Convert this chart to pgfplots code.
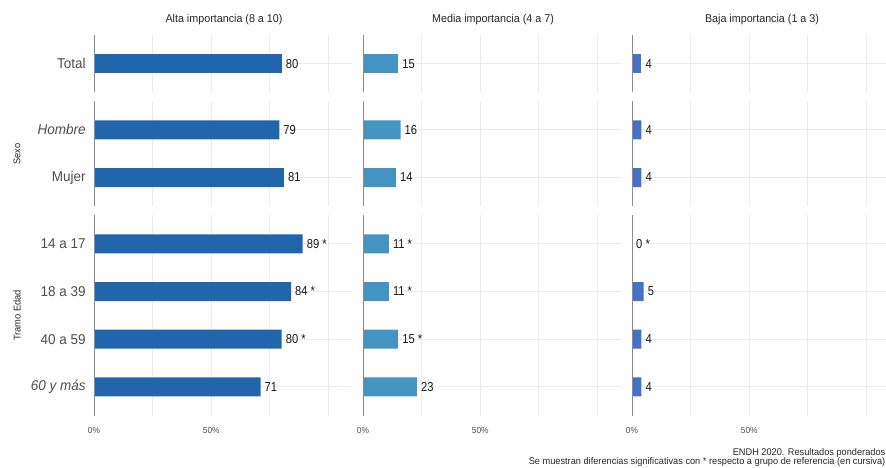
\documentclass[border=0pt]{standalone}
\usepackage{fontspec}
\setmainfont{Liberation Sans}[FakeStretch=0.86]
\newfontfamily\wide{Liberation Sans}[FakeStretch=0.95]
\usepackage{pgfplots}
\pgfplotsset{compat=1.18}
\definecolor{cA}{HTML}{2166AC}
\definecolor{cB}{HTML}{4393C3}
\definecolor{cC}{HTML}{4472C4}
\definecolor{gridc}{HTML}{EBEBEB}
\definecolor{axc}{HTML}{8C8C8C}
\definecolor{labc}{HTML}{4D4D4D}
\newcommand\fs[1]{\fontsize{#1}{#1}\selectfont}
\tikzset{zl/.style={axc, line width=1pt}}
\pgfplotsset{
  panel/.style={
    scale only axis, width=258pt,
    xmin=0, xmax=110, y dir=reverse,
    axis line style={draw=none},
    tick style={draw=none},
    xtick={0,25,50,75,100}, xticklabels={},
    xmajorgrids, ymajorgrids,
    major grid style={gridc, line width=1pt},
    yticklabel style={font=\wide\fs{14.2}, text=labc, inner sep=0pt, xshift=-4pt},
    xticklabel style={font=\wide\fs{8.8}, text=labc, inner sep=0pt, yshift=-11.5pt},
    xbar, bar width=19pt,
    nodes near coords, point meta=explicit symbolic,
    every node near coord/.append style={font=\fs{13}, text=black!90, inner sep=0pt, xshift=4pt, anchor=west},
    clip=false,
  },
  r1/.style={height=57.24pt, ymin=0.4, ymax=1.6, ytick={1}},
  r2/.style={height=104.94pt, ymin=0.4, ymax=2.6, ytick={1,2}},
  r3/.style={height=200.34pt, ymin=0.4, ymax=4.6, ytick={1,2,3,4}},
}
\begin{document}
\begin{tikzpicture}
\path[use as bounding box] (0,0) rectangle (886pt,467pt);
% ---------- Column 1 : Alta importancia ----------
\begin{axis}[panel, r1, at={(94pt,432pt)}, anchor=north west, yticklabels={Total}]
\addplot[fill=cA, draw=none] coordinates {(80,1) [80]};
\draw[zl] (rel axis cs:0,0) -- (rel axis cs:0,1);
\end{axis}
\begin{axis}[panel, r2, at={(94pt,365.8pt)}, anchor=north west, yticklabels={\textit{Hombre},Mujer}]
\addplot[fill=cA, draw=none] coordinates {(79,1) [79] (81,2) [81]};
\draw[zl] (rel axis cs:0,0) -- (rel axis cs:0,1);
\end{axis}
\begin{axis}[panel, r3, at={(94pt,251.8pt)}, anchor=north west, yticklabels={14 a 17,18 a 39,40 a 59,\textit{60 y más}}, xticklabels={0\%,,50\%,,}]
\addplot[fill=cA, draw=none] coordinates {(89,1) [89 *] (84,2) [84 *] (80,3) [80 *] (71,4) [71]};
\draw[zl] (rel axis cs:0,0) -- (rel axis cs:0,1);
\end{axis}
% ---------- Column 2 : Media importancia ----------
\begin{axis}[panel, r1, at={(363pt,432pt)}, anchor=north west, yticklabels={}]
\addplot[fill=cB, draw=none] coordinates {(15,1) [15]};
\draw[zl] (rel axis cs:0,0) -- (rel axis cs:0,1);
\end{axis}
\begin{axis}[panel, r2, at={(363pt,365.8pt)}, anchor=north west, yticklabels={}]
\addplot[fill=cB, draw=none] coordinates {(16,1) [16] (14,2) [14]};
\draw[zl] (rel axis cs:0,0) -- (rel axis cs:0,1);
\end{axis}
\begin{axis}[panel, r3, at={(363pt,251.8pt)}, anchor=north west, yticklabels={}, xticklabels={0\%,,50\%,,}]
\addplot[fill=cB, draw=none] coordinates {(11,1) [11 *] (11,2) [11 *] (15,3) [15 *] (23,4) [23]};
\draw[zl] (rel axis cs:0,0) -- (rel axis cs:0,1);
\end{axis}
% ---------- Column 3 : Baja importancia ----------
\begin{axis}[panel, r1, at={(632pt,432pt)}, anchor=north west, yticklabels={}]
\addplot[fill=cC, draw=none] coordinates {(4,1) [4]};
\draw[zl] (rel axis cs:0,0) -- (rel axis cs:0,1);
\end{axis}
\begin{axis}[panel, r2, at={(632pt,365.8pt)}, anchor=north west, yticklabels={}]
\addplot[fill=cC, draw=none] coordinates {(4,1) [4] (4,2) [4]};
\draw[zl] (rel axis cs:0,0) -- (rel axis cs:0,1);
\end{axis}
\begin{axis}[panel, r3, at={(632pt,251.8pt)}, anchor=north west, yticklabels={}, xticklabels={0\%,,50\%,,}]
\addplot[fill=cC, draw=none] coordinates {(0,1) [0 *] (5,2) [5] (4,3) [4] (4,4) [4]};
\draw[zl] (rel axis cs:0,0) -- (rel axis cs:0,1);
\end{axis}
% ---------- strips and caption ----------
\node[font=\wide\fs{11.3}, text=black!85] at (224pt,447.5pt) {Alta importancia (8 a 10)};
\node[font=\wide\fs{11.3}, text=black!85] at (493pt,447.5pt) {Media importancia (4 a 7)};
\node[font=\wide\fs{11.3}, text=black!85] at (762pt,447.5pt) {Baja importancia (1 a 3)};
\node[font=\wide\fs{9.8}, text=black!85, rotate=90] at (17pt,313pt) {Sexo};
\node[font=\wide\fs{9.8}, text=black!85, rotate=90] at (17pt,151.6pt) {Tramo Edad};
\node[font=\wide\fs{9.7}, text=black!85, anchor=east, inner sep=0pt] at (885.5pt,14pt) {ENDH 2020. Resultados ponderados};
\node[font=\wide\fs{9.7}, text=black!85, anchor=east, inner sep=0pt] at (885.5pt,5pt) {Se muestran diferencias significativas con * respecto a grupo de referencia (en cursiva)};
\end{tikzpicture}
\end{document}
